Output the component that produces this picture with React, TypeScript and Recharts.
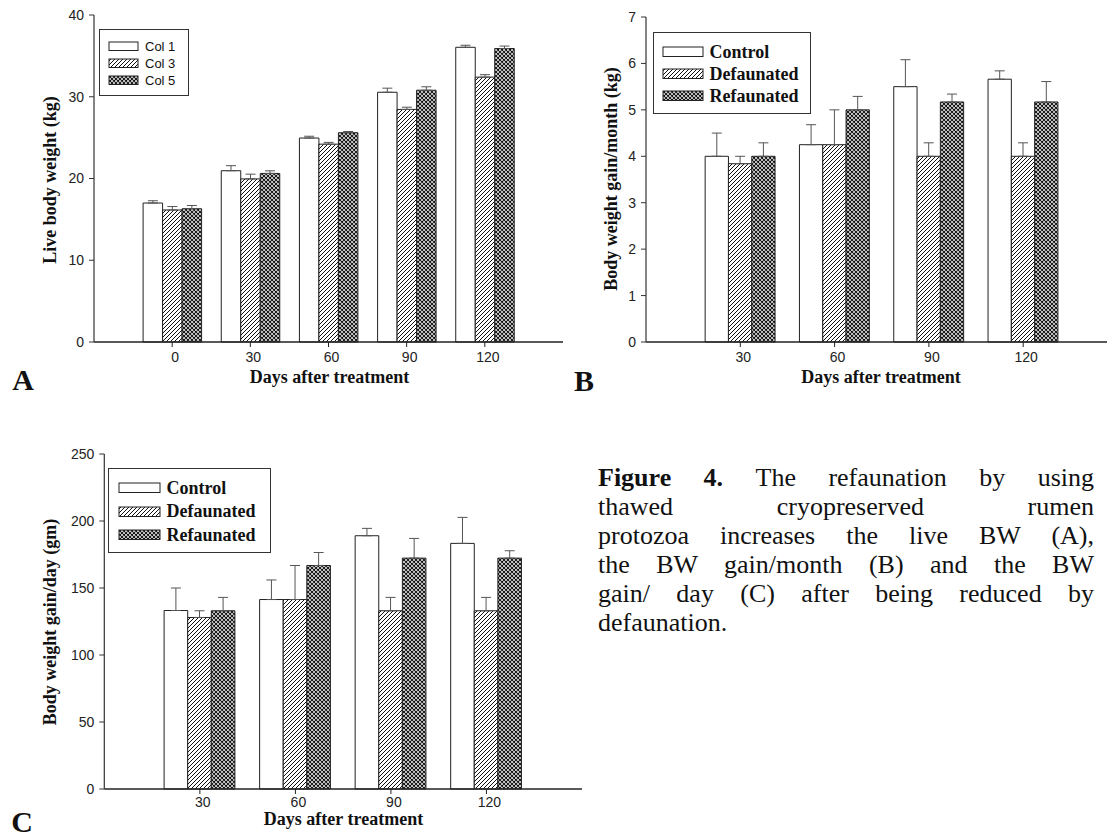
import type { CSSProperties, ReactNode } from 'react'
import { Bar, BarChart, ErrorBar, Legend, XAxis, YAxis } from 'recharts'

// Panel A: live body weight
const DAYS_A = ['0', '30', '60', '90', '120']
const A_COL1 = [17.0, 20.95, 24.95, 30.55, 36.05]
const A_COL1_ERR = [0.28, 0.62, 0.22, 0.5, 0.25]
const A_COL3 = [16.15, 19.95, 24.2, 28.45, 32.4]
const A_COL3_ERR = [0.42, 0.58, 0.22, 0.27, 0.3]
const A_COL5 = [16.3, 20.62, 25.6, 30.8, 35.9]
const A_COL5_ERR = [0.4, 0.32, 0.15, 0.42, 0.3]
const A_TICKS = [0, 10, 20, 30, 40]
const A_NAMES = ['Col 1', 'Col 3', 'Col 5']

// Panel B: gain per month
const DAYS_BC = ['30', '60', '90', '120']
const B_CONTROL = [4.0, 4.25, 5.5, 5.66]
const B_CONTROL_ERR = [0.5, 0.43, 0.58, 0.18]
const B_DEFAUNATED = [3.84, 4.25, 4.0, 4.0]
const B_DEFAUNATED_ERR = [0.16, 0.75, 0.29, 0.29]
const B_REFAUNATED = [4.0, 5.0, 5.17, 5.17]
const B_REFAUNATED_ERR = [0.29, 0.29, 0.17, 0.44]
const B_TICKS = [0, 1, 2, 3, 4, 5, 6, 7]

// Panel C: gain per day
const C_CONTROL = [133.2, 141.4, 189, 183.3]
const C_CONTROL_ERR = [16.8, 14.6, 5.5, 19.4]
const C_DEFAUNATED = [128, 141.4, 133, 133]
const C_DEFAUNATED_ERR = [5, 25.4, 10, 10]
const C_REFAUNATED = [133, 166.8, 172.3, 172.3]
const C_REFAUNATED_ERR = [10, 9.7, 14.7, 5.5]
const C_TICKS = [0, 50, 100, 150, 200, 250]

const TREATMENTS = ['Control', 'Defaunated', 'Refaunated']

const CAPTION_LINES = [
  'The refaunation by using',
  'thawed cryopreserved rumen',
  'protozoa increases the live BW (A),',
  'the BW gain/month (B) and the BW',
  'gain/ day (C) after being reduced by',
  'defaunation.',
]

const SERIF = "'Liberation Serif', 'Times New Roman', serif"
const SANS = "'Liberation Sans', Arial, sans-serif"
const TICK = { fill: '#222', fontSize: 14, fontFamily: SANS }

type Row = { day: string; v1: number; e1: number; v2: number; e2: number; v3: number; e3: number }

function buildRows(days: string[], s: number[][]): Row[] {
  return days.map((day, i) => ({
    day,
    v1: s[0][i],
    e1: s[1][i],
    v2: s[2][i],
    e2: s[3][i],
    v3: s[4][i],
    e3: s[5][i],
  }))
}

interface PanelProps {
  id: string
  rows: Row[]
  names: string[]
  ticks: number[]
  width: number
  height: number
  margin: { top: number; right: number; bottom: number; left: number }
  pad: number
  barSize: number
  tickMargin: number
  legend: { left: number; top: number; w: number; h: number; sw: number; sh: number; gap: number; row: number; font: CSSProperties }
}

function Panel({ id, rows, names, ticks, width, height, margin, pad, barSize, tickMargin, legend }: PanelProps) {
  const fills = ['#fff', `url(#hatch-${id})`, `url(#cross-${id})`]
  const top = ticks[ticks.length - 1]

  const legendContent = () => (
    <div
      style={{
        width: legend.w,
        height: legend.h,
        boxSizing: 'border-box',
        border: '1.3px solid #333',
        background: '#fff',
        paddingTop: (legend.h - legend.row * 3) / 2,
      }}
    >
      {names.map((name, i) => (
        <div key={name} style={{ display: 'flex', alignItems: 'center', height: legend.row, paddingLeft: legend.gap }}>
          <svg width={legend.sw + 2} height={legend.sh + 2} style={{ display: 'block' }}>
            <rect x={1} y={1} width={legend.sw} height={legend.sh} fill={fills[i]} stroke="#222" strokeWidth={1} />
          </svg>
          <span style={{ marginLeft: 6, lineHeight: 1, whiteSpace: 'nowrap', color: '#111', ...legend.font }}>{name}</span>
        </div>
      ))}
    </div>
  )

  return (
    <BarChart width={width} height={height} data={rows} margin={margin} barGap={0} barSize={barSize}>
      <defs>
        <pattern id={`hatch-${id}`} width={4} height={4} patternUnits="userSpaceOnUse">
          <rect width={4} height={4} fill="#fff" />
          <path d="M0,4 L4,0 M-1,1 L1,-1 M3,5 L5,3" stroke="#111" strokeWidth={1} />
        </pattern>
        <pattern id={`cross-${id}`} width={4} height={4} patternUnits="userSpaceOnUse">
          <rect width={4} height={4} fill="#fff" />
          <path d="M0,4 L4,0 M-1,1 L1,-1 M3,5 L5,3 M0,0 L4,4 M-1,3 L1,5 M3,-1 L5,1" stroke="#111" strokeWidth={1.1} />
        </pattern>
      </defs>
      <XAxis
        dataKey="day"
        interval={0}
        padding={{ left: pad, right: pad }}
        height={30}
        tickSize={5}
        tickMargin={tickMargin}
        stroke="#222"
        axisLine={{ stroke: '#222', strokeWidth: 1.4 }}
        tick={{ ...TICK, dx: 3 }}
      />
      <XAxis xAxisId="frame" orientation="top" dataKey="day" height={0} tick={false} tickLine={false} axisLine={{ stroke: '#666', strokeWidth: 2 }} />
      <YAxis
        domain={[0, top]}
        ticks={ticks}
        interval={0}
        width={60}
        tickSize={5}
        tickMargin={5}
        stroke="#333"
        axisLine={{ stroke: '#333', strokeWidth: 1.2 }}
        tick={TICK}
      />
      <YAxis yAxisId="frame" orientation="right" domain={[0, top]} width={0} tick={false} tickLine={false} axisLine={{ stroke: '#444', strokeWidth: 1.2 }} />
      <Legend layout="vertical" align="center" verticalAlign="middle" wrapperStyle={{ left: legend.left, top: legend.top, width: legend.w }} content={legendContent} />
      <Bar dataKey="v1" name={names[0]} fill={fills[0]} stroke="#222" strokeWidth={1} isAnimationActive={false}>
        <ErrorBar dataKey={(d: Row) => [0, d.e1]} width={5} stroke="#555" strokeWidth={1} />
      </Bar>
      <Bar dataKey="v2" name={names[1]} fill={fills[1]} stroke="#222" strokeWidth={1} isAnimationActive={false}>
        <ErrorBar dataKey={(d: Row) => [0, d.e2]} width={5} stroke="#555" strokeWidth={1} />
      </Bar>
      <Bar dataKey="v3" name={names[2]} fill={fills[2]} stroke="#222" strokeWidth={1} isAnimationActive={false}>
        <ErrorBar dataKey={(d: Row) => [0, d.e3]} width={5} stroke="#555" strokeWidth={1} />
      </Bar>
    </BarChart>
  )
}

function Txt({ x, y, children, rotate, style }: { x: number; y: number; children: ReactNode; rotate?: boolean; style?: CSSProperties }) {
  return (
    <div
      style={{
        position: 'absolute',
        left: x,
        top: y,
        transform: `translate(-50%, -50%)${rotate ? ' rotate(-90deg)' : ''}`,
        whiteSpace: 'nowrap',
        lineHeight: 1,
        fontFamily: SERIF,
        fontWeight: 700,
        fontSize: 18,
        color: '#111',
        ...style,
      }}
    >
      {children}
    </div>
  )
}

const rowsA = buildRows(DAYS_A, [A_COL1, A_COL1_ERR, A_COL3, A_COL3_ERR, A_COL5, A_COL5_ERR])
const rowsB = buildRows(DAYS_BC, [B_CONTROL, B_CONTROL_ERR, B_DEFAUNATED, B_DEFAUNATED_ERR, B_REFAUNATED, B_REFAUNATED_ERR])
const rowsC = buildRows(DAYS_BC, [C_CONTROL, C_CONTROL_ERR, C_DEFAUNATED, C_DEFAUNATED_ERR, C_REFAUNATED, C_REFAUNATED_ERR])

const smallLegendFont: CSSProperties = { fontFamily: SANS, fontSize: 13 }
const boldLegendFont: CSSProperties = { fontFamily: SERIF, fontWeight: 700, fontSize: 18 }

export default function App() {
  return (
    <div style={{ position: 'absolute', left: 0, top: 0, width: 1107, height: 836, overflow: 'hidden', background: '#fff' }}>
      <div style={{ position: 'absolute', left: 0, top: 0 }}>
        <Panel
          id="a"
          rows={rowsA}
          names={A_NAMES}
          ticks={A_TICKS}
          width={600}
          height={400}
          margin={{ top: 15, right: 37, bottom: 28, left: 34 }}
          pad={39.1}
          barSize={19.5}
          tickMargin={5}
          legend={{ left: 98.5, top: 29.3, w: 90, h: 66.5, sw: 29, sh: 8.5, gap: 8.5, row: 17, font: smallLegendFont }}
        />
      </div>
      <div style={{ position: 'absolute', left: 560, top: 0 }}>
        <Panel
          id="b"
          rows={rowsB}
          names={TREATMENTS}
          ticks={B_TICKS}
          width={600}
          height={400}
          margin={{ top: 17, right: 42.5, bottom: 28, left: 26 }}
          pad={47.15}
          barSize={23.3}
          tickMargin={5}
          legend={{ left: 92.5, top: 31.7, w: 158, h: 82.6, sw: 40, sh: 9.5, gap: 8, row: 22, font: boldLegendFont }}
        />
      </div>
      <div style={{ position: 'absolute', left: 0, top: 400 }}>
        <Panel
          id="c"
          rows={rowsC}
          names={TREATMENTS}
          ticks={C_TICKS}
          width={620}
          height={436}
          margin={{ top: 54, right: 38, bottom: 17, left: 44.3 }}
          pad={47.8}
          barSize={23.6}
          tickMargin={3}
          legend={{ left: 107.5, top: 67.7, w: 163, h: 85.6, sw: 41, sh: 9.5, gap: 9, row: 23.3, font: boldLegendFont }}
        />
      </div>

      <Txt x={50} y={180} rotate>Live body weight (kg)</Txt>
      <Txt x={329.5} y={377}>Days after treatment</Txt>
      <Txt x={610.5} y={179} rotate>Body weight gain/month (kg)</Txt>
      <Txt x={881} y={377}>Days after treatment</Txt>
      <Txt x={50} y={621.7} rotate>Body weight gain/day (gm)</Txt>
      <Txt x={343.5} y={819} style={{ lineHeight: 0.8 }}>Days after treatment</Txt>

      <Txt x={23} y={380} style={{ fontSize: 30 }}>A</Txt>
      <Txt x={584} y={381} style={{ fontSize: 30 }}>B</Txt>
      <Txt x={22} y={822} style={{ fontSize: 30 }}>C</Txt>

      <div style={{ position: 'absolute', left: 598, top: 463, width: 496, fontFamily: SERIF, fontSize: 26, lineHeight: '29px', color: '#111' }}>
        {CAPTION_LINES.map((line, i) => {
          const last = i === CAPTION_LINES.length - 1
          return (
            <div key={i} style={{ textAlign: last ? 'left' : 'justify', textAlignLast: last ? 'left' : 'justify', whiteSpace: 'nowrap' }}>
              {i === 0 ? <b>Figure 4. </b> : null}
              {line}
            </div>
          )
        })}
      </div>
    </div>
  )
}
